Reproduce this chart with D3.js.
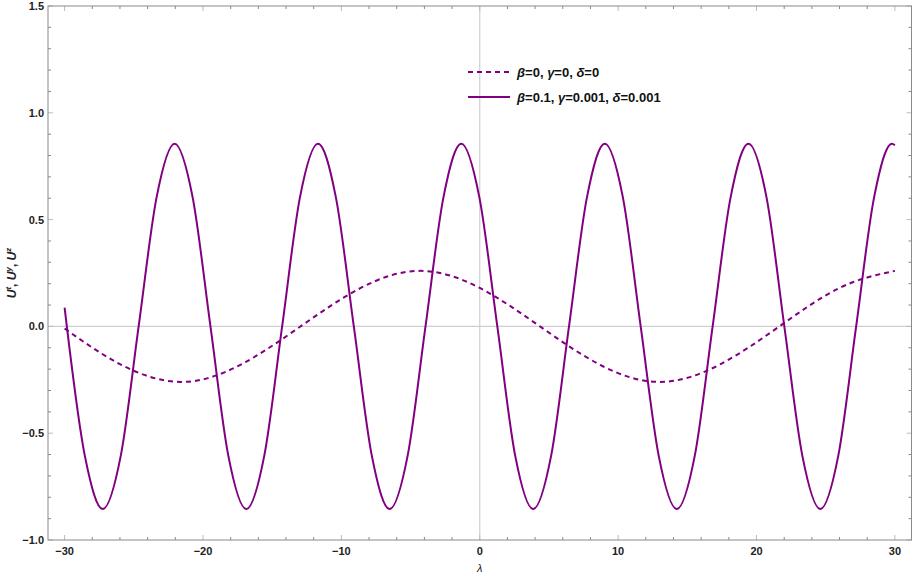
<!DOCTYPE html>
<html>
<head>
<meta charset="utf-8">
<script src="https://cdn.jsdelivr.net/npm/d3@7"></script>
<style>
body{margin:0;background:#fff}
svg{display:block}
.tl{font-family:"Liberation Sans",Arial,sans-serif;font-weight:bold;font-size:11px;fill:#222}
.lg{font-family:"Liberation Sans",Arial,sans-serif;font-weight:bold;font-size:13px;fill:#111}
</style>
</head>
<body>
<div id="chart"></div>
<script>
// lambda values and readings
var dashX=[-30,-25.9,-21.6,-17.3,-12.95,-8.6,-4.3,0,4.35,8.7,13.0,17.3,21.65,26.0,30]
var dashY=[-0.01,-0.18,-0.26,-0.18,0,0.18,0.26,0.18,0,-0.18,-0.26,-0.18,0,0.18,0.26]

var solidX=[-30,-28.54,-27.24,-25.94,-24.65,-23.35,-22.05,-20.75,-19.46,-18.17,-16.87,-15.57,-14.28,-12.99,-11.69,-10.4,-9.1,-7.8,-6.51,-5.21,-3.92,-2.62,-1.33,-0.03,1.27,2.56,3.86,5.16,6.45,7.75,9.04,10.34,11.63,12.93,14.24,15.54,16.83,18.13,19.42,20.72,22.01,23.31,24.61,25.91,27.2,28.5,29.79,30]
var solidY=[0.088,-0.605,-0.855,-0.605,0,0.605,0.855,0.605,0,-0.605,-0.855,-0.605,0,0.605,0.855,0.605,0,-0.605,-0.855,-0.605,0,0.605,0.855,0.605,0,-0.605,-0.855,-0.605,0,0.605,0.855,0.605,0,-0.605,-0.855,-0.605,0,0.605,0.855,0.605,0,-0.605,-0.855,-0.605,0,0.605,0.855,0.848]

var xTicks=[-30,-20,-10,0,10,20,30]
var yTicks=[-1.0,-0.5,0.0,0.5,1.0,1.5]
var legendLabels=["\u03b2=0, \u03b3=0, \u03b4=0","\u03b2=0.1, \u03b3=0.001, \u03b4=0.001"]

var W=913,H=576
var L=48,R=911.5,T=6,B=540
var col='#800080'

var svg=d3.select('#chart').append('svg')
    .attr('width',W).attr('height',H)

var x=d3.scaleLinear().domain([-31.2,31.2]).range([L,R])
var y=d3.scaleLinear().domain([-1,1.5]).range([B,T])

// zero axes
svg.append('line').attr('x1',L).attr('x2',R).attr('y1',y(0)).attr('y2',y(0))
    .attr('stroke','#cfcfcf').attr('stroke-width',1.2)
svg.append('line').attr('x1',x(0)).attr('x2',x(0)).attr('y1',T).attr('y2',B)
    .attr('stroke','#cfcfcf').attr('stroke-width',1.2)

// minor tick values
var xMinor=d3.range(-30,31,2).filter(function(d){return d%10!==0})
var yMinor=d3.range(-10,16,1).map(function(d){return d/10}).filter(function(d){return Math.abs(d*10)%5!==0})

var gx=svg.append('g')
function tickLines(vals,len,color,horiz){
    vals.forEach(function(v){
	if(horiz){
	    var px=x(v)
	    gx.append('line').attr('x1',px).attr('x2',px).attr('y1',B).attr('y2',B-len).attr('stroke',color)
	    gx.append('line').attr('x1',px).attr('x2',px).attr('y1',T).attr('y2',T+len).attr('stroke',color)
	}else{
	    var py=y(v)
	    gx.append('line').attr('x1',L).attr('x2',L+len).attr('y1',py).attr('y2',py).attr('stroke',color)
	    gx.append('line').attr('x1',R).attr('x2',R-len).attr('y1',py).attr('y2',py).attr('stroke',color)
	}
    })
}
tickLines(xTicks,5,'#bbb',true)
tickLines(xMinor,3,'#888',true)
tickLines(yTicks,5,'#bbb',false)
tickLines(yMinor,3,'#888',false)

// frame
svg.append('rect').attr('x',L).attr('y',T).attr('width',R-L).attr('height',B-T)
    .attr('fill','none').attr('stroke','#8a8a8a').attr('stroke-width',1)

// tick labels
svg.selectAll('.xl').data(xTicks).enter().append('text')
    .attr('class','tl').attr('x',function(d){return x(d)}).attr('y',B+15)
    .attr('text-anchor','middle')
    .text(function(d){return d<0?'\u2212'+Math.abs(d):d})
svg.selectAll('.yl').data(yTicks).enter().append('text')
    .attr('class','tl').attr('x',L-4).attr('y',function(d){return y(d)+4})
    .attr('text-anchor','end')
    .text(function(d){return (d<0?'\u2212':'')+Math.abs(d).toFixed(1)})

// axis titles
svg.append('text').attr('class','tl').attr('x',x(0)).attr('y',572)
    .attr('text-anchor','middle').style('font-style','italic').style('font-weight','normal').text('\u03bb')

var yl=svg.append('text').attr('class','tl').style('font-size','12px')
    .attr('transform','translate(16,'+((T+B)/2)+') rotate(-90)')
    .attr('text-anchor','middle')
;['t','y','z'].forEach(function(s,i){
    yl.append('tspan').style('font-style','italic').text('U')
    yl.append('tspan').attr('dy',-5).style('font-size','8px').style('font-style','italic').text(s)
    yl.append('tspan').attr('dy',5).text(i<2?', ':'')
})

// curves
var dashData=dashX.map(function(d,i){return [d,dashY[i]]})
var solidData=solidX.map(function(d,i){return [d,solidY[i]]})
var line=d3.line().x(function(d){return x(d[0])}).y(function(d){return y(d[1])}).curve(d3.curveNatural)
var line2=d3.line().x(function(d){return x(d[0])}).y(function(d){return y(d[1])}).curve(d3.curveMonotoneX)

svg.append('path').datum(dashData).attr('d',line)
    .attr('fill','none').attr('stroke',col).attr('stroke-width',2).attr('stroke-dasharray','5,4')
svg.append('path').datum(solidData).attr('d',line2)
    .attr('fill','none').attr('stroke',col).attr('stroke-width',2)

// legend
var lg=svg.append('g')
legendLabels.forEach(function(t,i){
    var ly=72+i*25
    lg.append('line').attr('x1',468).attr('x2',510).attr('y1',ly).attr('y2',ly)
	.attr('stroke',col).attr('stroke-width',2).attr('stroke-dasharray',i===0?'5,4':null)
    var tx=lg.append('text').attr('class','lg').attr('x',517).attr('y',ly+5)
    // greek letters in italic
    t.split(/([\u03b2\u03b3\u03b4])/).forEach(function(p){
	if(!p)return
	var sp=tx.append('tspan').text(p)
	if(/[\u03b2\u03b3\u03b4]/.test(p))sp.style('font-style','italic')
    })
})
</script>
</body>
</html>
